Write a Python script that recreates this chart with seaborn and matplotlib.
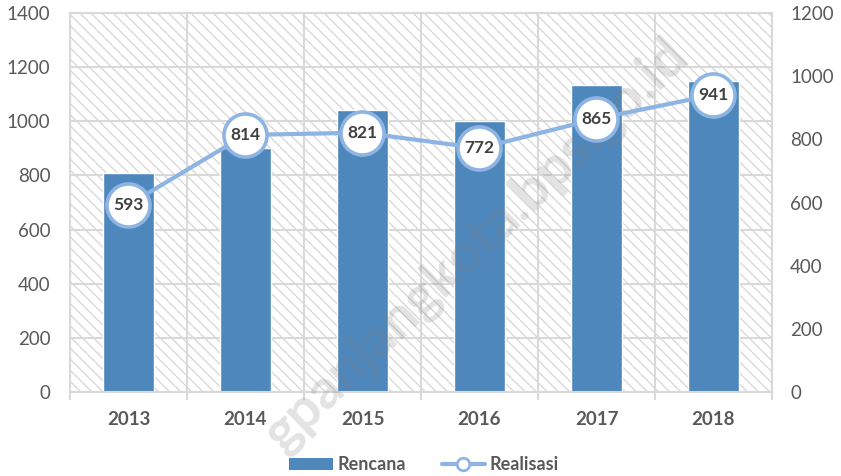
import numpy as np
import pandas as pd
import matplotlib
matplotlib.use("Agg")
import matplotlib.pyplot as plt
import seaborn as sns
from matplotlib.patches import Rectangle, Patch
from matplotlib.lines import Line2D
from matplotlib.ticker import FixedLocator

# Data
years = ["2013", "2014", "2015", "2016", "2017", "2018"]
rencana = [810, 900, 1040, 1000, 1135, 1150]
realisasi = [593, 814, 821, 772, 865, 941]
left_ticks = [0, 200, 400, 600, 800, 1000, 1200, 1400]
right_ticks = [0, 200, 400, 600, 800, 1000, 1200]

BAR_COLOR = "#4E87BC"
LINE_COLOR = "#8DB4E2"
GRID_COLOR = "#D9D9D9"
TEXT_COLOR = "#595959"

sns.set_theme(style="white")
plt.rcParams["font.family"] = ["Lato", "DejaVu Sans"]
plt.rcParams["hatch.linewidth"] = 0.9

df = pd.DataFrame({"year": years, "rencana": rencana, "realisasi": realisasi})

fig = plt.figure(figsize=(8.41, 4.76), dpi=100)
ax = fig.add_axes([70 / 841, 1 - 392 / 476, 702 / 841, 379 / 476])

# hatched plot-area background
ax.add_patch(Rectangle((0, 0), 1, 1, transform=ax.transAxes, facecolor="white",
                       edgecolor="#D6D6D6", hatch="\\\\\\", linewidth=0, zorder=0))

sns.barplot(data=df, x="year", y="rencana", ax=ax, color=BAR_COLOR,
            saturation=1, width=0.44, zorder=2)

ax.set_xlim(-0.5, len(years) - 0.5)
ax.set_ylim(0, 1400)
ax.set_yticks(left_ticks)
ax.xaxis.set_minor_locator(FixedLocator(np.arange(len(years) + 1) - 0.5))
ax.set_axisbelow(True)
ax.grid(axis="y", which="major", color=GRID_COLOR, linewidth=1.5)
ax.grid(axis="x", which="minor", color=GRID_COLOR, linewidth=1.5)
ax.set_xlabel("")
ax.set_ylabel("")
for s in ax.spines.values():
    s.set_color(GRID_COLOR)
    s.set_linewidth(1.5)
ax.tick_params(axis="y", length=0, pad=14, labelsize=13.5, labelcolor=TEXT_COLOR)
ax.tick_params(axis="x", which="major", length=0, pad=14, labelsize=13.5,
               labelcolor=TEXT_COLOR)
ax.tick_params(axis="x", which="minor", length=6, width=1.5, color=GRID_COLOR,
               bottom=True)
for lab in ax.get_xticklabels():
    lab.set_fontweight("bold")

# watermark (above the bars, below the line and its circles)
ax.text(680 / 841, 1 - 48 / 476, "gpanjangkota.bps.go.id", transform=fig.transFigure,
        rotation=44, rotation_mode="anchor", ha="right", va="center", fontsize=40,
        fontweight="bold", color="#808080", alpha=0.22, zorder=4, clip_on=False)

# Realisasi on the secondary axis
ax2 = ax.twinx()
sns.pointplot(data=df, x="year", y="realisasi", ax=ax2, color=LINE_COLOR,
              markers="o", linewidth=3, markersize=31, markeredgewidth=2.6,
              markerfacecolor="white", markeredgecolor=LINE_COLOR, zorder=3)
ax2.set_xlim(-0.5, len(years) - 0.5)
ax2.set_ylim(0, 1200)
ax2.set_yticks(right_ticks)
ax2.set_ylabel("")
for s in ax2.spines.values():
    s.set_visible(False)
ax2.tick_params(axis="y", length=0, pad=13, labelsize=13.5, labelcolor=TEXT_COLOR)

for i, v in enumerate(realisasi):
    ax2.text(i, v, str(v), ha="center", va="center", fontsize=12.5,
             fontweight="bold", color="#404040", zorder=5)

# legend
handles = [
    Patch(facecolor=BAR_COLOR, edgecolor="none"),
    Line2D([0], [0], color=LINE_COLOR, linewidth=3, marker="o", markersize=9,
           markerfacecolor="white", markeredgecolor=LINE_COLOR, markeredgewidth=2),
]
leg = fig.legend(handles, ["Rencana", "Realisasi"], loc="center",
                 bbox_to_anchor=(424 / 841, 1 - 465 / 476), ncol=2, frameon=False,
                 handlelength=2.4, handleheight=0.6, handletextpad=0.25,
                 columnspacing=2.0, prop={"size": 13, "weight": "bold"})
for t in leg.get_texts():
    t.set_color(TEXT_COLOR)

fig.savefig("out.png", dpi=100)
